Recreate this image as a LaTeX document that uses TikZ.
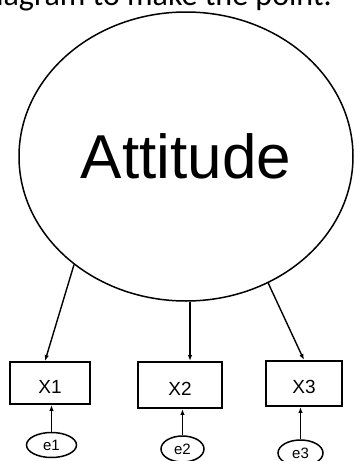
\documentclass[tikz,border=0pt]{standalone}
\usepackage{fontspec}
\setmainfont{Liberation Sans}
\newfontfamily\topfont{Carlito}
\usetikzlibrary{arrows.meta,shapes.geometric}
\begin{document}
\begin{tikzpicture}[x=1pt,y=-1pt,
  latent/.style={ellipse,draw,line width=1.5pt,inner sep=0pt},
  obsbox/.style={rectangle,draw,line width=1.9pt,inner sep=0pt,
    font=\fontsize{19}{19}\selectfont,text height=20.5pt,text depth=0pt},
  errnode/.style={ellipse,draw,line width=1.5pt,inner sep=0pt,
    font=\fontsize{15}{15}\selectfont},
  loadarrow/.style={line width=1.4pt,-{Latex[length=6pt,width=4.5pt]}}]
\useasboundingbox (0,0) rectangle (354,461);
\clip (0,0) rectangle (354,461);
\fill[white] (0,0) rectangle (354,461);
\node[anchor=base east,font=\topfont\fontsize{32}{32}\selectfont,inner sep=0pt] (cap) at (332,5) {diagram to make the point.};
\node[latent,minimum width=334pt,minimum height=289pt,
  font=\fontsize{62}{62}\selectfont] (att) at (186,156.5) {Attitude};
\node[obsbox,minimum width=80pt,minimum height=42pt] (x1) at (50,383) {X1};
\node[obsbox,minimum width=84pt,minimum height=46pt] (x2) at (180,385) {X2};
\node[obsbox,minimum width=76pt,minimum height=45pt] (x3) at (304,383.5) {X3};
\node[errnode,minimum width=50pt,minimum height=25pt] (e1) at (51.5,445) {e1};
\node[errnode,minimum width=43pt,minimum height=26pt] (e2) at (182.5,449) {e2};
\node[errnode,minimum width=45pt,minimum height=26pt] (e3) at (300.5,453) {e3};
\draw[loadarrow] (att.224.6) -- ([xshift=-5pt]x1.north);
\draw[loadarrow] ([xshift=4pt]att.south) -- ([xshift=10pt]x2.north);
\draw[loadarrow] (att.303.2) -- (x3.north);
\draw[loadarrow] (e1.north) -- (e1.north |- x1.south);
\draw[loadarrow] (e2.north) -- (e2.north |- x2.south);
\draw[loadarrow] (e3.north) -- (e3.north |- x3.south);
\end{tikzpicture}
\end{document}
